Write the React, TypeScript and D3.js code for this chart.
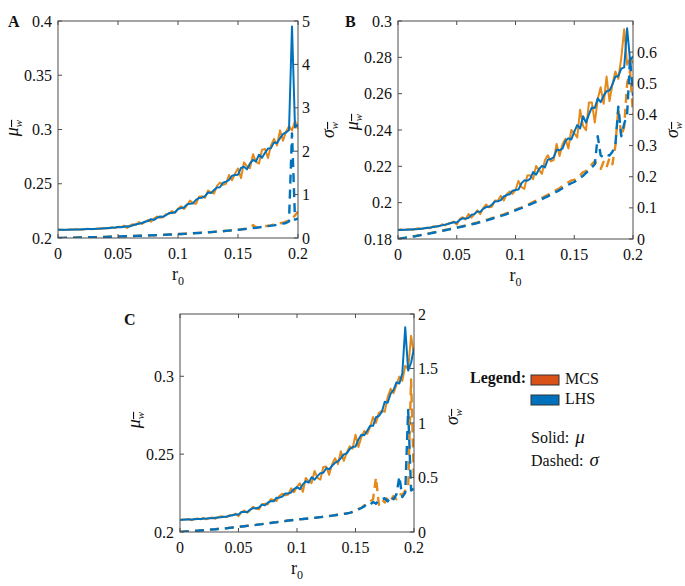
import * as d3 from "d3";

// r0 sample grid (0 .. 0.2, step 0.0025)
const R0 = d3.range(81).map((i) => i * 0.0025);

// Panel A — mean (x1e-4) and std (x1e-3)
const A_MU_MCS = [
  2075, 2077, 2074, 2076, 2081, 2076, 2080, 2079, 2076, 2083, 2086, 2081, 2084, 2087, 2083, 2092, 2090, 2090, 2100, 2092,
  2103, 2101, 2114, 2092, 2115, 2127, 2119, 2147, 2130, 2148, 2166, 2150, 2180, 2198, 2187, 2191, 2220, 2222, 2249, 2232,
  2270, 2293, 2267, 2301, 2345, 2320, 2315, 2380, 2385, 2371, 2437, 2423, 2410, 2480, 2510, 2490, 2500, 2581, 2532, 2593,
  2641, 2552, 2697, 2661, 2644, 2772, 2702, 2686, 2814, 2821, 2738, 2853, 2914, 2854, 2992, 2896, 2980, 3031, 2992, 3079, 3004,
];
const A_MU_LHS = [
  2075, 2075, 2076, 2076, 2077, 2078, 2078, 2079, 2080, 2081, 2082, 2083, 2084, 2085, 2087, 2088, 2090, 2092, 2094, 2096,
  2101, 2099, 2104, 2109, 2107, 2118, 2127, 2131, 2138, 2150, 2156, 2174, 2166, 2186, 2198, 2195, 2210, 2231, 2231, 2238,
  2266, 2276, 2281, 2310, 2315, 2321, 2351, 2369, 2372, 2385, 2419, 2414, 2443, 2466, 2468, 2509, 2520, 2535, 2574, 2580,
  2584, 2645, 2657, 2633, 2687, 2721, 2706, 2768, 2739, 2785, 2824, 2828, 2881, 2876, 2920, 2957, 2973, 2995, 3950, 3018, 3047,
];
const A_SIG_MCS = [
  0, 2, 4, 5, 7, 8, 10, 11, 13, 15, 16, 18, 20, 21, 23, 26, 27, 29, 32, 33,
  36, 37, 40, 41, 45, 46, 49, 51, 55, 56, 60, 61, 65, 67, 72, 73, 78, 79, 84, 86,
  91, 93, 98, 100, 106, 108, 114, 117, 123, 126, 132, 136, 143, 146, 154, 158, 166, 171, 180, 184,
  193, 198, 208, 213, 225, 300, 242, 248, 262, 270, 285, 292, 312, 318, 340, 350, 380, 400, 450, 520, 610,
];
const A_SIG_LHS = [
  0, 2, 3, 5, 6, 8, 9, 11, 13, 14, 16, 18, 19, 21, 23, 25, 27, 29, 31, 33,
  35, 37, 39, 41, 44, 46, 48, 51, 53, 56, 58, 61, 64, 67, 70, 73, 76, 79, 82, 86,
  89, 93, 96, 100, 104, 108, 112, 116, 121, 125, 130, 135, 140, 146, 151, 157, 163, 170, 176, 183,
  188, 197, 204, 212, 220, 229, 236, 246, 254, 265, 272, 285, 292, 305, 315, 330, 345, 380, 2410, 420, 450,
];

// Panel B
const B_MU_MCS = [
  1850, 1854, 1849, 1853, 1852, 1849, 1856, 1859, 1855, 1859, 1863, 1859, 1870, 1869, 1870, 1881, 1875, 1885, 1888, 1896,
  1879, 1909, 1920, 1908, 1938, 1917, 1937, 1958, 1937, 1970, 1990, 1975, 1978, 2012, 2010, 2038, 2012, 2046, 2062, 2048,
  2070, 2120, 2086, 2075, 2149, 2151, 2129, 2202, 2180, 2159, 2234, 2261, 2228, 2234, 2323, 2257, 2322, 2352, 2298, 2400,
  2382, 2359, 2512, 2422, 2399, 2552, 2552, 2441, 2572, 2635, 2544, 2694, 2559, 2651, 2722, 2682, 2796, 2955, 2760, 2797, 2768,
];
const B_MU_LHS = [
  1850, 1850, 1851, 1851, 1852, 1853, 1854, 1855, 1857, 1859, 1861, 1863, 1866, 1869, 1872, 1875, 1879, 1883, 1888, 1892,
  1891, 1905, 1914, 1912, 1916, 1933, 1937, 1952, 1949, 1966, 1976, 1977, 1990, 2006, 2008, 2014, 2034, 2042, 2046, 2066,
  2070, 2072, 2106, 2123, 2121, 2131, 2169, 2154, 2184, 2203, 2194, 2237, 2240, 2250, 2291, 2289, 2298, 2340, 2354, 2348,
  2390, 2427, 2408, 2476, 2441, 2486, 2524, 2521, 2574, 2553, 2588, 2614, 2617, 2651, 2694, 2696, 2738, 2745, 2960, 2783, 2806,
];
const B_SIG_MCS = [
  0, 2, 3, 5, 7, 8, 10, 12, 13, 15, 17, 19, 21, 23, 25, 27, 29, 31, 33, 35,
  37, 39, 41, 44, 46, 48, 51, 53, 56, 58, 61, 64, 67, 70, 73, 76, 79, 83, 86, 90,
  94, 98, 101, 106, 110, 114, 119, 123, 128, 132, 137, 142, 147, 152, 158, 163, 170, 175, 182, 188,
  190, 200, 205, 215, 218, 230, 240, 250, 235, 225, 248, 230, 260, 240, 300, 420, 330, 360, 500, 540, 400,
];
const B_SIG_LHS = [
  0, 2, 3, 5, 6, 8, 9, 11, 13, 15, 16, 18, 20, 22, 24, 26, 28, 30, 32, 34,
  36, 38, 40, 42, 44, 47, 49, 51, 54, 56, 59, 62, 65, 68, 71, 74, 77, 80, 84, 88,
  92, 96, 99, 103, 107, 111, 115, 119, 124, 128, 133, 137, 142, 147, 152, 157, 163, 168, 174, 179,
  183, 190, 196, 203, 212, 220, 230, 240, 330, 268, 262, 270, 268, 280, 300, 425, 330, 370, 400, 580, 460,
];

// Panel C
const C_MU_MCS = [
  2075, 2081, 2080, 2084, 2075, 2084, 2087, 2082, 2091, 2082, 2088, 2093, 2085, 2095, 2101, 2096, 2096, 2108, 2108, 2118,
  2101, 2127, 2138, 2124, 2140, 2162, 2149, 2146, 2178, 2182, 2176, 2210, 2205, 2199, 2232, 2246, 2235, 2240, 2280, 2255,
  2291, 2313, 2258, 2347, 2325, 2314, 2392, 2348, 2337, 2417, 2420, 2367, 2436, 2474, 2436, 2518, 2457, 2509, 2550, 2535,
  2625, 2546, 2608, 2649, 2630, 2674, 2738, 2701, 2765, 2779, 2772, 2866, 2920, 2892, 2945, 2998, 2970, 3068, 3045, 3260, 3140,
];
const C_MU_LHS = [
  2079, 2079, 2080, 2080, 2081, 2082, 2083, 2084, 2085, 2086, 2088, 2089, 2091, 2093, 2095, 2098, 2100, 2104, 2108, 2112,
  2112, 2128, 2128, 2128, 2144, 2153, 2152, 2157, 2176, 2171, 2188, 2199, 2197, 2220, 2222, 2227, 2248, 2248, 2254, 2276,
  2288, 2275, 2306, 2326, 2317, 2352, 2336, 2359, 2378, 2380, 2410, 2403, 2425, 2445, 2454, 2474, 2498, 2505, 2532, 2546,
  2549, 2594, 2624, 2621, 2650, 2682, 2682, 2737, 2745, 2771, 2836, 2830, 2888, 2912, 2961, 2954, 3018, 3315, 3037, 3087, 3180,
];
const C_SIG_MCS = [
  0, 2, 4, 6, 8, 11, 12, 15, 16, 19, 21, 24, 25, 29, 30, 34, 35, 39, 41, 45,
  47, 51, 53, 57, 59, 63, 65, 70, 72, 77, 79, 84, 87, 91, 94, 99, 101, 106, 108, 112,
  114, 118, 119, 123, 124, 128, 130, 134, 136, 140, 142, 147, 150, 155, 158, 163, 166, 172, 175, 182,
  192, 210, 222, 245, 255, 280, 300, 500, 250, 300, 270, 320, 290, 330, 300, 350, 340, 380, 400, 1400, 450,
];
const C_SIG_LHS = [
  0, 2, 4, 6, 8, 10, 12, 14, 16, 18, 21, 23, 25, 28, 30, 33, 35, 38, 41, 44,
  47, 50, 53, 56, 59, 62, 65, 69, 72, 76, 79, 83, 87, 90, 94, 98, 101, 105, 108, 111,
  114, 117, 119, 122, 124, 127, 130, 133, 136, 139, 142, 146, 150, 154, 158, 162, 166, 170, 175, 185,
  195, 208, 220, 235, 262, 250, 275, 260, 290, 300, 310, 280, 330, 300, 345, 510, 320, 360, 1120, 380, 400,
];

const X_TICKS = [0, 0.05, 0.1, 0.15, 0.2];
const A_MU_TICKS = [0.2, 0.25, 0.3, 0.35, 0.4];
const A_SIG_TICKS = [0, 1, 2, 3, 4, 5];
const B_MU_TICKS = [0.18, 0.2, 0.22, 0.24, 0.26, 0.28, 0.3];
const B_SIG_TICKS = [0, 0.1, 0.2, 0.3, 0.4, 0.5, 0.6];
const C_MU_TICKS = [0.2, 0.25, 0.3];
const C_SIG_TICKS = [0, 0.5, 1, 1.5, 2];

const LEGEND = ["MCS", "LHS"];
const LINE_COLORS = { MCS: "#E5891A", LHS: "#0072BD" };
const BOX_COLORS = { MCS: "#D95319", LHS: "#0072BD" };

const FONT = "'Liberation Serif', 'Times New Roman', serif";
const AXIS = "#4d4d4d";
const fmt = (v: number) => String(+v.toFixed(3));

const mu = (a: number[]) => a.map((v) => v / 10000);
const sig = (a: number[]) => a.map((v) => v / 1000);

const PANELS = [
  {
    id: "A", left: 58, right: 298, top: 21, bottom: 238,
    muDomain: [0.2, 0.4], sigDomain: [0, 5], muTicks: A_MU_TICKS, sigTicks: A_SIG_TICKS,
    muMCS: mu(A_MU_MCS), muLHS: mu(A_MU_LHS), sigMCS: sig(A_SIG_MCS), sigLHS: sig(A_SIG_LHS),
    letter: [8, 27], muLabel: [18, 128], sigLabel: [334, 130],
  },
  {
    id: "B", left: 398, right: 633, top: 21, bottom: 239,
    muDomain: [0.18, 0.3], sigDomain: [0, 0.7], muTicks: B_MU_TICKS, sigTicks: B_SIG_TICKS,
    muMCS: mu(B_MU_MCS), muLHS: mu(B_MU_LHS), sigMCS: sig(B_SIG_MCS), sigLHS: sig(B_SIG_LHS),
    letter: [345, 27], muLabel: [358, 122], sigLabel: [678, 130],
  },
  {
    id: "C", left: 180, right: 414, top: 314, bottom: 532,
    muDomain: [0.2, 0.34], sigDomain: [0, 2], muTicks: C_MU_TICKS, sigTicks: C_SIG_TICKS,
    muMCS: mu(C_MU_MCS), muLHS: mu(C_MU_LHS), sigMCS: sig(C_SIG_MCS), sigLHS: sig(C_SIG_LHS),
    letter: [124, 325], muLabel: [140, 420], sigLabel: [458, 417],
  },
];

type PanelCfg = (typeof PANELS)[number];

function AxisLabel({ x, y, sym }: { x: number; y: number; sym: string }) {
  return (
    <text
      transform={`translate(${x},${y}) rotate(-90)`}
      textAnchor="middle"
      fontFamily={FONT}
      fontSize={18}
      fontStyle="italic"
      fill="#111"
    >
      {sym}
      <tspan fontSize={11} dy={4} textDecoration="overline">w</tspan>
    </text>
  );
}

function Panel({ cfg }: { cfg: PanelCfg }) {
  const x = d3.scaleLinear().domain([0, 0.2]).range([cfg.left, cfg.right]);
  const yL = d3.scaleLinear().domain(cfg.muDomain).range([cfg.bottom, cfg.top]);
  const yR = d3.scaleLinear().domain(cfg.sigDomain).range([cfg.bottom, cfg.top]);
  const lineL = d3.line<number>().x((_, i) => x(R0[i])).y((d) => yL(d));
  const lineR = d3.line<number>().x((_, i) => x(R0[i])).y((d) => yR(d));
  const clip = `clip-${cfg.id}`;
  const tl = 4;
  const cx = (cfg.left + cfg.right) / 2;

  return (
    <g>
      <defs>
        <clipPath id={clip}>
          <rect x={cfg.left} y={cfg.top} width={cfg.right - cfg.left} height={cfg.bottom - cfg.top} />
        </clipPath>
      </defs>
      <g clipPath={`url(#${clip})`} fill="none" strokeLinejoin="round">
        <path d={lineL(cfg.muMCS) ?? ""} stroke={LINE_COLORS.MCS} strokeWidth={2} />
        <path d={lineL(cfg.muLHS) ?? ""} stroke={LINE_COLORS.LHS} strokeWidth={2} />
        <path d={lineR(cfg.sigMCS) ?? ""} stroke={LINE_COLORS.MCS} strokeWidth={2.4} strokeDasharray="9 6" />
        <path d={lineR(cfg.sigLHS) ?? ""} stroke={LINE_COLORS.LHS} strokeWidth={2.4} strokeDasharray="9 6" />
      </g>
      <rect
        x={cfg.left} y={cfg.top} width={cfg.right - cfg.left} height={cfg.bottom - cfg.top}
        fill="none" stroke={AXIS} strokeWidth={1}
      />
      <g stroke={AXIS} strokeWidth={1}>
        {X_TICKS.map((t) => (
          <g key={`x${t}`}>
            <line x1={x(t)} x2={x(t)} y1={cfg.bottom} y2={cfg.bottom - tl} />
            <line x1={x(t)} x2={x(t)} y1={cfg.top} y2={cfg.top + tl} />
          </g>
        ))}
        {cfg.muTicks.map((t) => (
          <line key={`l${t}`} x1={cfg.left} x2={cfg.left + tl} y1={yL(t)} y2={yL(t)} />
        ))}
        {cfg.sigTicks.map((t) => (
          <line key={`r${t}`} x1={cfg.right} x2={cfg.right - tl} y1={yR(t)} y2={yR(t)} />
        ))}
      </g>
      <g fontFamily={FONT} fontSize={16} fill="#111">
        {X_TICKS.map((t) => (
          <text key={`xt${t}`} x={x(t)} y={cfg.bottom + 21} textAnchor="middle">{fmt(t)}</text>
        ))}
        {cfg.muTicks.map((t) => (
          <text key={`lt${t}`} x={cfg.left - 6} y={yL(t)} dy="0.35em" textAnchor="end">{fmt(t)}</text>
        ))}
        {cfg.sigTicks.map((t) => (
          <text key={`rt${t}`} x={cfg.right + 4} y={yR(t)} dy="0.35em" textAnchor="start">{fmt(t)}</text>
        ))}
      </g>
      <text x={cx} y={cfg.bottom + 42} textAnchor="middle" fontFamily={FONT} fontSize={18} fill="#111">
        r<tspan fontSize={12} dy={5}>0</tspan>
      </text>
      <AxisLabel x={cfg.muLabel[0]} y={cfg.muLabel[1]} sym="μ" />
      <AxisLabel x={cfg.sigLabel[0]} y={cfg.sigLabel[1]} sym="σ" />
      <text x={cfg.letter[0]} y={cfg.letter[1]} fontFamily={FONT} fontWeight="bold" fontSize={16} fill="#111">
        {cfg.id}
      </text>
    </g>
  );
}

function Legend() {
  return (
    <g fontFamily={FONT} fontSize={16} fill="#111">
      <text x={470} y={383} fontWeight="bold">Legend:</text>
      {LEGEND.map((k, i) => (
        <g key={k}>
          <rect
            x={531} y={375 + i * 20} width={28} height={10}
            fill={BOX_COLORS[k as keyof typeof BOX_COLORS]} stroke="#333" strokeWidth={1}
          />
          <text x={565} y={384 + i * 20}>{k}</text>
        </g>
      ))}
      <text x={531} y={443}>
        Solid:<tspan dx={6} fontStyle="italic" fontSize={19}>μ</tspan>
      </text>
      <text x={531} y={466}>
        Dashed:<tspan dx={6} fontStyle="italic" fontSize={19}>σ</tspan>
      </text>
    </g>
  );
}

export default function App() {
  return (
    <svg
      width={685}
      height={586}
      viewBox="0 0 685 586"
      style={{ position: "absolute", left: 0, top: 0, background: "#fff" }}
    >
      {PANELS.map((p) => (
        <Panel key={p.id} cfg={p} />
      ))}
      <Legend />
    </svg>
  );
}
